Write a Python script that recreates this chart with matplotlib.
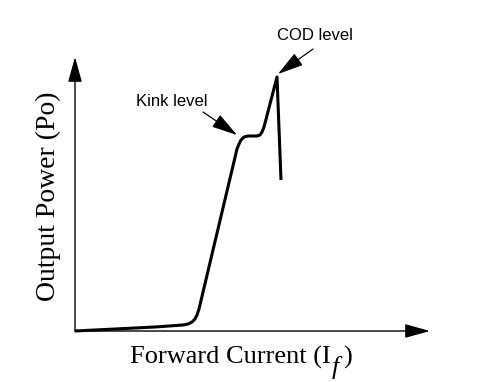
import matplotlib; matplotlib.use("Agg")
import matplotlib.pyplot as plt
from matplotlib.transforms import IdentityTransform

# L-I curve (arbitrary units, origin at the axes corner)
current = [0, 40, 80, 108, 113, 117, 120, 122, 124, 162, 164, 166, 169, 173, 178, 182, 185, 187, 189, 202, 206]
power   = [0, 2, 4, 6, 7, 9, 12, 16, 22, 182, 187, 191, 194, 195, 195, 195, 196, 199, 204, 254, 151]

X_LABEL = ["Forward Current (I", "f", ")"]
Y_LABEL = "Output Power (Po)"
KINK = ("Kink level", (162, 196), (128, 219))
COD  = ("COD level", (203, 257), (238, 282))

fig = plt.figure(figsize=(4.87, 3.82), dpi=100)
ax = fig.add_axes([0, 0, 1, 1])
ax.set_xlim(-75, 412)
ax.set_ylim(-51, 331)
ax.axis("off")

# axes with filled arrow heads
head = "-|>,head_length=1.55,head_width=0.43"
ax.annotate("", xy=(0, 274), xytext=(0, 0),
            arrowprops=dict(arrowstyle=head, color="black", lw=1.0, mutation_scale=10,
                            shrinkA=0, shrinkB=0))
ax.annotate("", xy=(355, 0), xytext=(0, 0),
            arrowprops=dict(arrowstyle=head, color="black", lw=1.0, mutation_scale=10,
                            shrinkA=0, shrinkB=0))

ax.plot(current, power, color="black", lw=2.2, solid_joinstyle="round", solid_capstyle="butt")

ahead = "-|>,head_length=1.6,head_width=0.45"
for txt, tip, tail in (KINK, COD):
    ax.annotate("", xy=tip, xytext=tail,
                arrowprops=dict(arrowstyle=ahead, color="black", lw=0.9, mutation_scale=10,
                                shrinkA=0, shrinkB=0))
ax.text(97, 230, KINK[0], ha="center", va="center", fontsize=12, family="Liberation Sans")
ax.text(240, 295, COD[0], ha="center", va="center", fontsize=12, family="Liberation Sans")

# x label built from pieces so the italic f can sit low and full size
serif = "Liberation Serif"
px = IdentityTransform()
base = 382 - 364
t1 = fig.text(130, base, X_LABEL[0], transform=px, ha="left", va="baseline",
              fontsize=19, family=serif)
fig.canvas.draw()
r = fig.canvas.get_renderer()
x1 = t1.get_window_extent(r).x1
t2 = fig.text(x1 + 1, base - 10, X_LABEL[1], transform=px, ha="left", va="baseline",
              fontsize=19, family=serif, style="italic")
x2 = t2.get_window_extent(r).x1
fig.text(x2 + 4, base, X_LABEL[2], transform=px, ha="left", va="baseline",
         fontsize=19, family=serif)

fig.text(48, 382 - 196, Y_LABEL, transform=px, ha="center", va="center", rotation=90,
         fontsize=20, family=serif)

fig.savefig("out.png", dpi=100, facecolor="white")
